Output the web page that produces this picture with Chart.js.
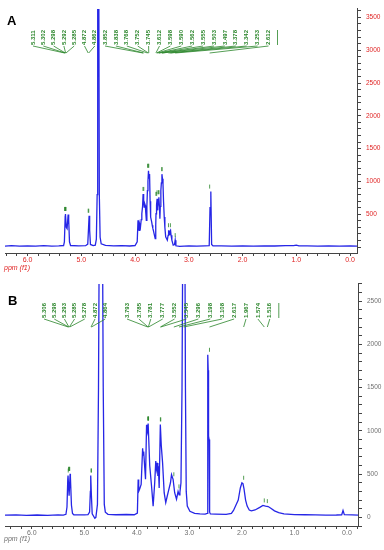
<!DOCTYPE html>
<html>
<head>
<meta charset="utf-8">
<script src="https://cdn.jsdelivr.net/npm/chart.js@4.4.1/dist/chart.umd.min.js"></script>
<style>
  html, body { margin: 0; padding: 0; background: #fff; }
  canvas { display: block; }
</style>
</head>
<body>
<canvas id="specA" width="384" height="275"></canvas>
<canvas id="specB" width="384" height="275"></canvas>
<script>
// Spectrum A (ppm / intensity)
const ppmA = [6.42, 6.30, 6.15, 6.00, 5.85, 5.70, 5.55, 5.42, 5.33, 5.315,
    5.30, 5.295, 5.28, 5.265, 5.245, 5.235, 5.22, 5.20, 5.05, 4.92,
    4.88, 4.865, 4.855, 4.845, 4.83, 4.78, 4.74, 4.72, 4.705, 4.695,
    4.675, 4.665, 4.65, 4.63, 4.55, 4.40, 4.25, 4.10, 4.00, 3.96,
    3.945, 3.935, 3.925, 3.915, 3.90, 3.885, 3.874, 3.86, 3.85, 3.84,
    3.83, 3.82, 3.81, 3.80, 3.79, 3.78, 3.77, 3.76, 3.75, 3.74,
    3.73, 3.72, 3.71, 3.69, 3.68, 3.67, 3.66, 3.645, 3.625, 3.615,
    3.61, 3.60, 3.59, 3.58, 3.575, 3.565, 3.557, 3.545, 3.538, 3.53,
    3.52, 3.51, 3.50, 3.49, 3.48, 3.47, 3.457, 3.445, 3.43, 3.415,
    3.40, 3.385, 3.376, 3.365, 3.357, 3.35, 3.34, 3.33, 3.315, 3.30,
    3.29, 3.265, 3.253, 3.24, 3.17, 3.00, 2.85, 2.70, 2.62, 2.605,
    2.59, 2.575, 2.55, 2.40, 2.20, 2.00, 1.80, 1.60, 1.40, 1.20,
    1.05, 1.00, 0.95, 0.80, 0.60, 0.40, 0.20, 0.00, -0.13];
const intA = [16, 21, 14, 19, 16, 21, 15, 19, 24, 80,
    470, 505, 300, 280, 495, 420, 80, 24, 18, 21,
    45, 300, 478, 260, 40, 22, 30, 120, 800, 4200,
    4200, 800, 150, 50, 25, 18, 22, 17, 24, 80,
    408, 300, 257, 350, 300, 420, 508, 620, 810, 700,
    609, 660, 634, 520, 408, 620, 860, 1000, 1163, 1050,
    1112, 700, 458, 380, 332, 290, 257, 200, 131, 330,
    508, 640, 735, 560, 609, 700, 760, 600, 433, 620,
    860, 980, 1112, 1040, 961, 700, 458, 300, 156, 130,
    106, 180, 257, 190, 206, 240, 257, 180, 106, 60,
    30, 40, 106, 20, 12, 18, 15, 20, 22, 600,
    846, 40, 18, 20, 15, 19, 16, 20, 17, 21,
    22, 30, 20, 18, 16, 19, 15, 18, 16];

// Spectrum B (ppm / intensity)
const ppmB = [6.51, 6.30, 6.10, 5.90, 5.70, 5.50, 5.40, 5.35, 5.33, 5.315,
    5.31, 5.29, 5.27, 5.265, 5.245, 5.225, 5.20, 5.00, 4.93, 4.90,
    4.885, 4.878, 4.865, 4.85, 4.80, 4.78, 4.75, 4.73, 4.71, 4.66,
    4.64, 4.62, 4.60, 4.55, 4.40, 4.20, 4.05, 3.99, 3.975, 3.965,
    3.945, 3.918, 3.89, 3.88, 3.87, 3.835, 3.815, 3.80, 3.785, 3.755,
    3.72, 3.69, 3.66, 3.64, 3.625, 3.61, 3.60, 3.59, 3.575, 3.553,
    3.535, 3.51, 3.48, 3.45, 3.42, 3.40, 3.36, 3.34, 3.31, 3.28,
    3.245, 3.215, 3.195, 3.18, 3.16, 3.14, 3.12, 3.09, 3.075, 3.06,
    3.04, 2.99, 2.90, 2.80, 2.70, 2.66, 2.65, 2.642, 2.635, 2.625,
    2.615, 2.60, 2.50, 2.30, 2.20, 2.16, 2.07, 2.03, 2.00, 1.98,
    1.96, 1.93, 1.90, 1.86, 1.82, 1.75, 1.66, 1.60, 1.55, 1.50,
    1.45, 1.38, 1.30, 1.20, 1.00, 0.80, 0.60, 0.40, 0.20, 0.10,
    0.075, 0.05, -0.10, -0.21];
const intB = [25, 28, 22, 27, 24, 29, 26, 35, 120, 440,
    484, 250, 503, 470, 140, 45, 30, 28, 32, 60,
    300, 484, 250, 40, -10, 0, 150, 1500, 4000, 4000,
    1500, 150, 60, 35, 30, 33, 30, 50, 438, 300,
    330, 380, 800, 720, 760, 440, 1070, 1000, 1085, 600,
    360, 130, 400, 650, 560, 630, 480, 590, 340, 1075,
    830, 630, 285, 170, 250, 300, 400, 495, 440, 285,
    210, 300, 260, 290, 400, 1500, 4000, 4000, 1500, 300,
    130, 70, 45, 40, 38, 45, 1880, 1700, 940, 900,
    60, 40, 38, 35, 45, 80, 200, 340, 400, 390,
    330, 200, 130, 85, 75, 85, 115, 138, 130, 125,
    105, 75, 55, 40, 32, 30, 28, 26, 27, 30,
    80, 32, 28, 26];

// Peak picking labels
const peakLabelsA = ['5.311', '5.302', '5.298', '5.292', '5.285', '4.872', '4.862',
    '3.852', '3.838', '3.768', '3.752', '3.745', '3.612', '3.598', '3.590', '3.562',
    '3.555', '3.503', '3.497', '3.378', '3.342', '3.253', '2.612'];
const peakLabelsB = ['5.306', '5.298', '5.293', '5.285', '5.278', '4.872', '4.864',
    '3.793', '3.785', '3.781', '3.777', '3.552', '3.545', '3.296', '3.198', '3.108',
    '2.617', '1.967', '1.574', '1.516'];

const GREEN = '#2a852a';
const LINE = '#2626e6';

function peakHeight(ppm, val, p, win) {
    let m = -Infinity;
    ppm.forEach((q, i) => {
        if (Math.abs(q - p) <= win && val[i] > m) m = val[i];
    });
    return m;
}

function annotations(cfg) {
    return {
        id: 'annot' + cfg.letter,
        afterDatasetsDraw(chart) {
            const ctx = chart.ctx;
            const xs = chart.scales.x, ys = chart.scales.y, area = chart.chartArea;
            ctx.save();

            ctx.fillStyle = '#000';
            ctx.font = 'bold 13px "Liberation Sans", Arial, sans-serif';
            ctx.textAlign = 'left';
            ctx.textBaseline = 'alphabetic';
            ctx.fillText(cfg.letter, cfg.letterX, cfg.letterY);

            ctx.fillStyle = cfg.axisColor;
            ctx.font = 'italic 7px "Liberation Sans", Arial, sans-serif';
            ctx.fillText('ppm (f1)', 4, cfg.unitY);

            const slots = [];
            cfg.groups.forEach(g => {
                for (let i = 0; i < g.n; i++) slots.push(g.x0 + i * g.dx);
            });

            ctx.strokeStyle = GREEN;
            ctx.fillStyle = GREEN;
            ctx.lineWidth = 0.8;
            ctx.font = 'bold 6px "Liberation Sans", Arial, sans-serif';
            cfg.labels.forEach((lab, i) => {
                const tx = slots[i];
                const p = parseFloat(lab);
                const px = xs.getPixelForValue(p);

                ctx.save();
                ctx.translate(tx, cfg.textBottom);
                ctx.rotate(-Math.PI / 2);
                ctx.textAlign = 'left';
                ctx.textBaseline = 'middle';
                ctx.fillText(lab, 0, 0);
                ctx.restore();

                ctx.beginPath();
                ctx.moveTo(tx, cfg.textBottom + 1);
                ctx.lineTo(px, cfg.joinY);
                ctx.stroke();

                const h = peakHeight(cfg.ppm, cfg.val, p, 0.035);
                const py = ys.getPixelForValue(h);
                if (py > area.top + 10) {
                    ctx.beginPath();
                    ctx.moveTo(px, py - 3);
                    ctx.lineTo(px, py - 7);
                    ctx.stroke();
                }
            });
            // bracket beside the last label
            const last = slots[cfg.labels.length - 1] + 9;
            ctx.beginPath();
            ctx.moveTo(last, cfg.textBottom - 15);
            ctx.lineTo(last, cfg.textBottom);
            ctx.stroke();
            ctx.restore();
        }
    };
}

function spectrum(id, ppm, val, o) {
    new Chart(document.getElementById(id), {
        type: 'line',
        data: {
            datasets: [{
                data: ppm.map((p, i) => ({ x: p, y: val[i] })),
                borderColor: LINE,
                borderWidth: 1.3,
                pointRadius: 0,
                tension: 0,
                fill: false
            }]
        },
        options: {
            responsive: false,
            animation: false,
            devicePixelRatio: 1,
            layout: { padding: { left: 5, right: 0, top: o.top, bottom: 0 } },
            plugins: { legend: { display: false }, tooltip: { enabled: false } },
            scales: {
                x: {
                    type: 'linear',
                    reverse: true,
                    min: o.xMin,
                    max: o.xMax,
                    afterFit: s => { s.height = o.xHeight; },
                    border: { color: '#444', width: 1 },
                    grid: { drawOnChartArea: false, tickLength: 3, color: '#444' },
                    ticks: {
                        stepSize: 0.2,
                        includeBounds: false,
                        autoSkip: false,
                        maxRotation: 0,
                        padding: 0,
                        color: o.axisColor,
                        font: { family: '"Liberation Sans", Arial, sans-serif', size: 7 },
                        callback: v => Math.abs(v - Math.round(v)) < 1e-6 ? v.toFixed(1) : ''
                    }
                },
                y: {
                    position: 'right',
                    min: o.yMin,
                    max: o.yMax,
                    afterFit: s => { s.width = o.yWidth; },
                    border: { color: '#444', width: 1 },
                    grid: { drawOnChartArea: false, tickLength: 4, color: '#444' },
                    ticks: {
                        stepSize: 100,
                        includeBounds: false,
                        autoSkip: false,
                        padding: 5,
                        color: o.axisColor,
                        font: { family: '"Liberation Sans", Arial, sans-serif', size: 6.5 },
                        callback: v => (Math.abs(v % 500) < 1e-6 && (v > 0 || o.showZero)) ? String(Math.round(v)) : ''
                    }
                }
            }
        },
        plugins: [annotations(o.annot)]
    });
}

spectrum('specA', ppmA, intA, {
    xMin: -0.13, xMax: 6.42, yMin: -90, yMax: 3630,
    top: 7, xHeight: 22, yWidth: 27, axisColor: '#e02424', showZero: false,
    annot: {
        letter: 'A', letterX: 7, letterY: 25, unitY: 270, axisColor: '#e02424',
        textBottom: 45, joinY: 53, labels: peakLabelsA, ppm: ppmA, val: intA,
        groups: [{ n: 7, x0: 33, dx: 10.3 }, { n: 16, x0: 105, dx: 10.9 }]
    }
});

spectrum('specB', ppmB, intB, {
    xMin: -0.21, xMax: 6.51, yMin: -100, yMax: 2700,
    top: 8, xHeight: 24, yWidth: 26, axisColor: '#707070', showZero: true,
    annot: {
        letter: 'B', letterX: 8, letterY: 30, unitY: 266, axisColor: '#707070',
        textBottom: 43, joinY: 52, labels: peakLabelsB, ppm: ppmB, val: intB,
        groups: [{ n: 7, x0: 44, dx: 10.2 }, { n: 13, x0: 127, dx: 11.9 }]
    }
});
</script>
</body>
</html>
